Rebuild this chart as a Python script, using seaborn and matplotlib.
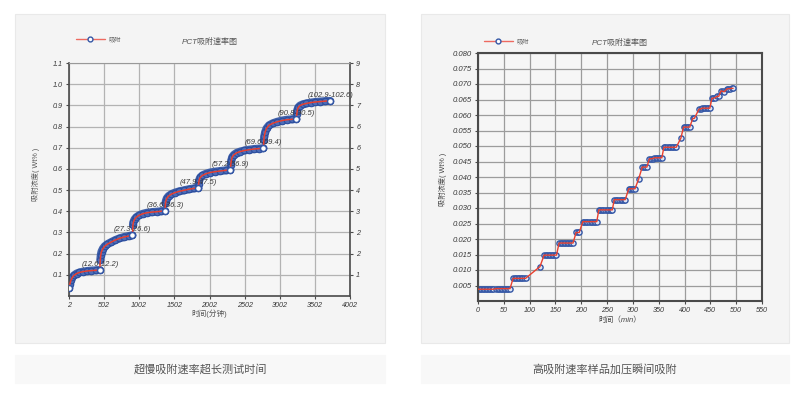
import matplotlib
matplotlib.use("Agg")
import matplotlib.pyplot as plt
from matplotlib.lines import Line2D
from matplotlib.patches import Rectangle
import pandas as pd
import seaborn as sns

# ---- data: slow adsorption, long test (left chart) ----
long_min = [
    5, 15, 30, 50, 75, 110, 150, 200, 260, 320, 380, 440,
    448, 455, 465, 485, 510, 550, 600, 660, 720, 790, 850, 905,
    912, 920, 935, 960, 1000, 1050, 1110, 1180, 1250, 1310, 1370,
    1375, 1382, 1395, 1420, 1460, 1510, 1570, 1640, 1710, 1780, 1845,
    1848, 1855, 1870, 1900, 1950, 2010, 2080, 2150, 2230, 2300,
    2305, 2312, 2325, 2350, 2390, 2440, 2500, 2570, 2640, 2710, 2770,
    2775, 2782, 2795, 2815, 2850, 2900, 2960, 3030, 3100, 3170, 3240,
    3245, 3252, 3265, 3290, 3330, 3380, 3440, 3510, 3580, 3650, 3720,
]
long_wt = [
    0.040, 0.058, 0.075, 0.088, 0.098, 0.106, 0.111, 0.115, 0.118, 0.120, 0.121, 0.123,
    0.172, 0.195, 0.210, 0.224, 0.235, 0.245, 0.254, 0.264, 0.272, 0.279, 0.283, 0.287,
    0.335, 0.350, 0.362, 0.372, 0.381, 0.388, 0.393, 0.396, 0.398, 0.400, 0.402,
    0.438, 0.450, 0.462, 0.472, 0.481, 0.488, 0.494, 0.499, 0.504, 0.508, 0.511,
    0.530, 0.548, 0.560, 0.569, 0.577, 0.583, 0.587, 0.590, 0.593, 0.596,
    0.620, 0.640, 0.656, 0.667, 0.676, 0.682, 0.687, 0.691, 0.694, 0.696, 0.698,
    0.735, 0.755, 0.775, 0.792, 0.806, 0.815, 0.822, 0.828, 0.832, 0.834, 0.836,
    0.860, 0.878, 0.890, 0.899, 0.905, 0.909, 0.913, 0.916, 0.918, 0.920, 0.921,
]
long_seg = (
    [1] * 12 + [2] * 12 + [3] * 11 + [4] * 11
    + [5] * 10 + [6] * 11 + [7] * 11 + [8] * 11
)
step_labels = [
    "(12.6-12.2)", "(27.3-26.6)", "(36.6-36.3)", "(47.9-47.5)",
    "(57.2-56.9)", "(69.6-69.4)", "(90.8-90.5)", "(102.9-102.6)",
]
long_xticks = [2, 502, 1002, 1502, 2002, 2502, 3002, 3502, 4002]
long_yticks = [0.1, 0.2, 0.3, 0.4, 0.5, 0.6, 0.7, 0.8, 0.9, 1.0, 1.1]
long_right_labels = ["1", "2", "2", "3", "4", "5", "6", "6", "7", "8", "9"]

# ---- data: fast adsorption on pressurising (right chart) ----
fast_min = [
    0, 3, 6, 9, 12, 15, 18, 21, 24, 27, 30,
    35, 38, 41, 44, 47, 50, 53, 56, 59, 62,
    68, 71, 74, 77, 80, 83, 86, 89, 92,
    120,
    128, 131, 134, 137, 140, 143, 146, 149, 152,
    157, 160, 163, 166, 169, 172, 175, 178, 181, 184,
    190, 193, 196,
    203, 206, 209, 212, 215, 218, 221, 224, 227, 230,
    234, 237, 240, 243, 246, 249, 252, 255, 258, 260,
    264, 267, 270, 273, 276, 279, 282, 285,
    292, 295, 298, 301, 304,
    311,
    318, 321, 324, 327,
    332, 335, 338, 341, 344, 347, 350, 353, 356,
    360, 363, 366, 369, 372, 375, 378, 381, 384,
    393,
    398, 401, 404, 407, 410,
    416, 419,
    428, 431, 434, 437, 440, 443, 446, 449,
    453, 456, 459, 463, 466,
    471, 474, 477,
    482, 485, 488, 491, 494,
]
fast_wt = [
    0.0038, 0.0038, 0.0038, 0.0038, 0.0038, 0.0038, 0.0038, 0.0038, 0.0038, 0.0038, 0.0038,
    0.0040, 0.0040, 0.0040, 0.0040, 0.0040, 0.0040, 0.0040, 0.0040, 0.0040, 0.0040,
    0.0073, 0.0073, 0.0073, 0.0073, 0.0073, 0.0073, 0.0073, 0.0073, 0.0073,
    0.0111,
    0.0148, 0.0148, 0.0148, 0.0148, 0.0148, 0.0148, 0.0148, 0.0148, 0.0148,
    0.0187, 0.0187, 0.0187, 0.0187, 0.0187, 0.0187, 0.0187, 0.0187, 0.0187, 0.0187,
    0.0221, 0.0221, 0.0221,
    0.0256, 0.0256, 0.0256, 0.0256, 0.0256, 0.0256, 0.0256, 0.0256, 0.0256, 0.0256,
    0.0294, 0.0294, 0.0294, 0.0294, 0.0294, 0.0294, 0.0294, 0.0294, 0.0294, 0.0294,
    0.0327, 0.0327, 0.0327, 0.0327, 0.0327, 0.0327, 0.0327, 0.0327,
    0.0362, 0.0362, 0.0362, 0.0362, 0.0362,
    0.0393,
    0.0432, 0.0432, 0.0432, 0.0432,
    0.0459, 0.0459, 0.0459, 0.0462, 0.0462, 0.0462, 0.0462, 0.0462, 0.0462,
    0.0496, 0.0496, 0.0496, 0.0496, 0.0496, 0.0496, 0.0496, 0.0496, 0.0496,
    0.0526,
    0.0561, 0.0561, 0.0561, 0.0561, 0.0561,
    0.0589, 0.0589,
    0.0619, 0.0619, 0.0622, 0.0622, 0.0622, 0.0622, 0.0622, 0.0622,
    0.0654, 0.0654, 0.0656, 0.0660, 0.0660,
    0.0678, 0.0676, 0.0675,
    0.0684, 0.0685, 0.0685, 0.0686, 0.0686,
]
fast_xticks = [0, 50, 100, 150, 200, 250, 300, 350, 400, 450, 500, 550]
fast_yticks = [0.005, 0.010, 0.015, 0.020, 0.025, 0.030, 0.035, 0.040,
               0.045, 0.050, 0.055, 0.060, 0.065, 0.070, 0.075, 0.080]

chart_title = "PCT吸附速率图"
legend_name = "吸附"
ylabel = "吸附浓度( Wt% )"
captions = ["超慢吸附速率超长测试时间", "高吸附速率样品加压瞬间吸附"]

W, H = 794, 399
BLUE = "#3457a6"
RED = "#e8402f"
GRID = "#b3b3b3"
TXT = "#3a3a3a"

sns.set_style("ticks")
plt.rcParams["font.family"] = ["Liberation Sans", "Noto Sans CJK SC", "DejaVu Sans"]

fig = plt.figure(figsize=(W / 100, H / 100), dpi=100, facecolor="white")


def px_rect(x0, y0, x1, y1):
    return [x0 / W, 1 - y1 / H, (x1 - x0) / W, (y1 - y0) / H]


def add_box(x0, y0, x1, y1, face, edge):
    r = Rectangle((x0 / W, 1 - y1 / H), (x1 - x0) / W, (y1 - y0) / H,
                  transform=fig.transFigure, facecolor=face, edgecolor=edge,
                  linewidth=0.8, zorder=-5)
    fig.add_artist(r)


# panel backgrounds and caption strips
add_box(15, 14, 385, 343, "#f4f4f4", "#e9e9e9")
add_box(421, 14, 789, 343, "#f4f4f4", "#e9e9e9")
add_box(15, 355, 385, 383, "#f8f8f8", "#f8f8f8")
add_box(421, 355, 789, 383, "#f8f8f8", "#f8f8f8")
fig.text(200 / W, 1 - 369 / H, captions[0], ha="center", va="center",
         fontsize=8, color="#555555")
fig.text(605 / W, 1 - 369 / H, captions[1], ha="center", va="center",
         fontsize=8, color="#555555")


def style_axes(ax, grid_color, spine_w):
    ax.set_facecolor("#f6f6f6")
    ax.grid(True, color=grid_color, linewidth=0.9)
    ax.set_axisbelow(True)
    for s in ax.spines.values():
        s.set_color("#4a4a4a")
        s.set_linewidth(spine_w)
    ax.tick_params(direction="out", length=2.5, width=0.8, color="#4a4a4a",
                   pad=2, labelcolor=TXT)


def legend_for(ax, anchor):
    h = Line2D([], [], color="#ee6a60", lw=1.0, marker="o", ms=3.5,
               mfc="white", mec=BLUE, mew=1.0)
    ax.legend([h], [legend_name], loc="center left", bbox_to_anchor=anchor,
              frameon=False, fontsize=4.5, handlelength=4.6, handletextpad=0.6,
              borderpad=0, borderaxespad=0, labelcolor="#666666")


# ================= left chart =================
df_long = pd.DataFrame({"t": long_min, "w": long_wt, "seg": long_seg})
ax = fig.add_axes(px_rect(69, 63, 350, 296))
style_axes(ax, GRID, 1.2)
ax.spines["top"].set_color("#999999")
ax.spines["top"].set_linewidth(0.8)

sns.lineplot(data=df_long, x="t", y="w", units="seg", estimator=None,
             color=BLUE, lw=5.8, alpha=0.92, ax=ax, zorder=2,
             solid_capstyle="round", legend=False)
sns.scatterplot(data=df_long, x="t", y="w", ax=ax, s=22, marker="o",
                facecolor="#4d6db8", edgecolor="#2c4e9e", linewidth=0.8,
                zorder=2.2, legend=False)
sns.lineplot(data=df_long, x="t", y="w", sort=False, estimator=None,
             color=RED, lw=1.1, ax=ax, zorder=3)
ends = df_long.groupby("seg").tail(1)
sns.scatterplot(data=ends, x="t", y="w", ax=ax, s=18, marker="o",
                facecolor="white", edgecolor=BLUE, linewidth=1.0,
                zorder=3.5, legend=False)
first = df_long.head(1)
sns.scatterplot(data=first, x="t", y="w", ax=ax, s=18, marker="o",
                facecolor="white", edgecolor=BLUE, linewidth=1.0,
                zorder=3.5, legend=False)
for (t, w), lab in zip(ends[["t", "w"]].values, step_labels):
    ax.annotate(lab, (t, w), xytext=(0, 1.5), textcoords="offset points",
                ha="center", va="bottom", fontsize=5.5, style="italic",
                color=TXT, zorder=2.5, annotation_clip=False)

ax.set_xlim(2, 4002)
ax.set_ylim(0, 1.1)
ax.set_xticks(long_xticks)
ax.set_xticklabels([str(v) for v in long_xticks])
ax.set_yticks(long_yticks)
ax.set_yticklabels([f"{v:.1f}" for v in long_yticks])
for lbl in ax.get_xticklabels() + ax.get_yticklabels():
    lbl.set_fontsize(5.2)
    lbl.set_style("italic")
ax.set_xlabel("时间(分钟)", fontsize=5.5, color="#555555", va="center")
ax.xaxis.set_label_coords(0.5, -18 / 233)
ax.set_ylabel(ylabel, fontsize=5.2, color="#555555", va="center")
ax.yaxis.set_label_coords(-0.117, 0.524)
ax.text(0.5, (296 - 41.5) / 233, chart_title, transform=ax.transAxes,
        ha="center", va="center", fontsize=5.8, style="italic", color="#555555")
legend_for(ax, ((76 - 69) / 281, (296 - 39.5) / 233))

ax2 = ax.twinx()
ax2.set_ylim(0, 1.1)
ax2.set_yticks(long_yticks)
ax2.set_yticklabels(long_right_labels)
ax2.grid(False)
ax2.tick_params(direction="out", length=2.5, width=0.8, color="#4a4a4a",
                pad=2, labelcolor=TXT)
for lbl in ax2.get_yticklabels():
    lbl.set_fontsize(5.2)
    lbl.set_style("italic")
for s in ax2.spines.values():
    s.set_visible(False)

# ================= right chart =================
df_fast = pd.DataFrame({"t": fast_min, "w": fast_wt})
bx = fig.add_axes(px_rect(478, 53, 762, 301))
style_axes(bx, "#9c9c9c", 1.5)

sns.scatterplot(data=df_fast, x="t", y="w", ax=bx, s=14, marker="o",
                facecolor="#dfe6f5", edgecolor=BLUE, linewidth=1.0,
                zorder=2, legend=False)
sns.lineplot(data=df_fast, x="t", y="w", sort=False, estimator=None,
             color=RED, lw=1.0, ax=bx, zorder=3)

bx.set_xlim(0, 550)
bx.set_ylim(0, 0.080)
bx.set_xticks(fast_xticks)
bx.set_xticklabels([str(v) for v in fast_xticks])
bx.set_yticks(fast_yticks)
bx.set_yticklabels([f"{v:.3f}" for v in fast_yticks])
for lbl in bx.get_xticklabels():
    lbl.set_fontsize(5.2)
    lbl.set_style("italic")
for lbl in bx.get_yticklabels():
    lbl.set_fontsize(5.6)
    lbl.set_style("italic")
bx.set_xlabel("时间（min）", fontsize=5.5, color="#444444", va="center",
              style="italic")
bx.xaxis.set_label_coords(0.5, -19 / 248)
bx.set_ylabel(ylabel, fontsize=5.2, color="#444444", va="center")
bx.yaxis.set_label_coords(-0.123, 0.49)
bx.text(0.5, (301 - 43.3) / 248, chart_title, transform=bx.transAxes,
        ha="center", va="center", fontsize=5.8, style="italic", color="#555555")
legend_for(bx, ((484 - 478) / 284, (301 - 41.7) / 248))

fig.savefig("out.png", dpi=100, facecolor="white")
plt.close(fig)
